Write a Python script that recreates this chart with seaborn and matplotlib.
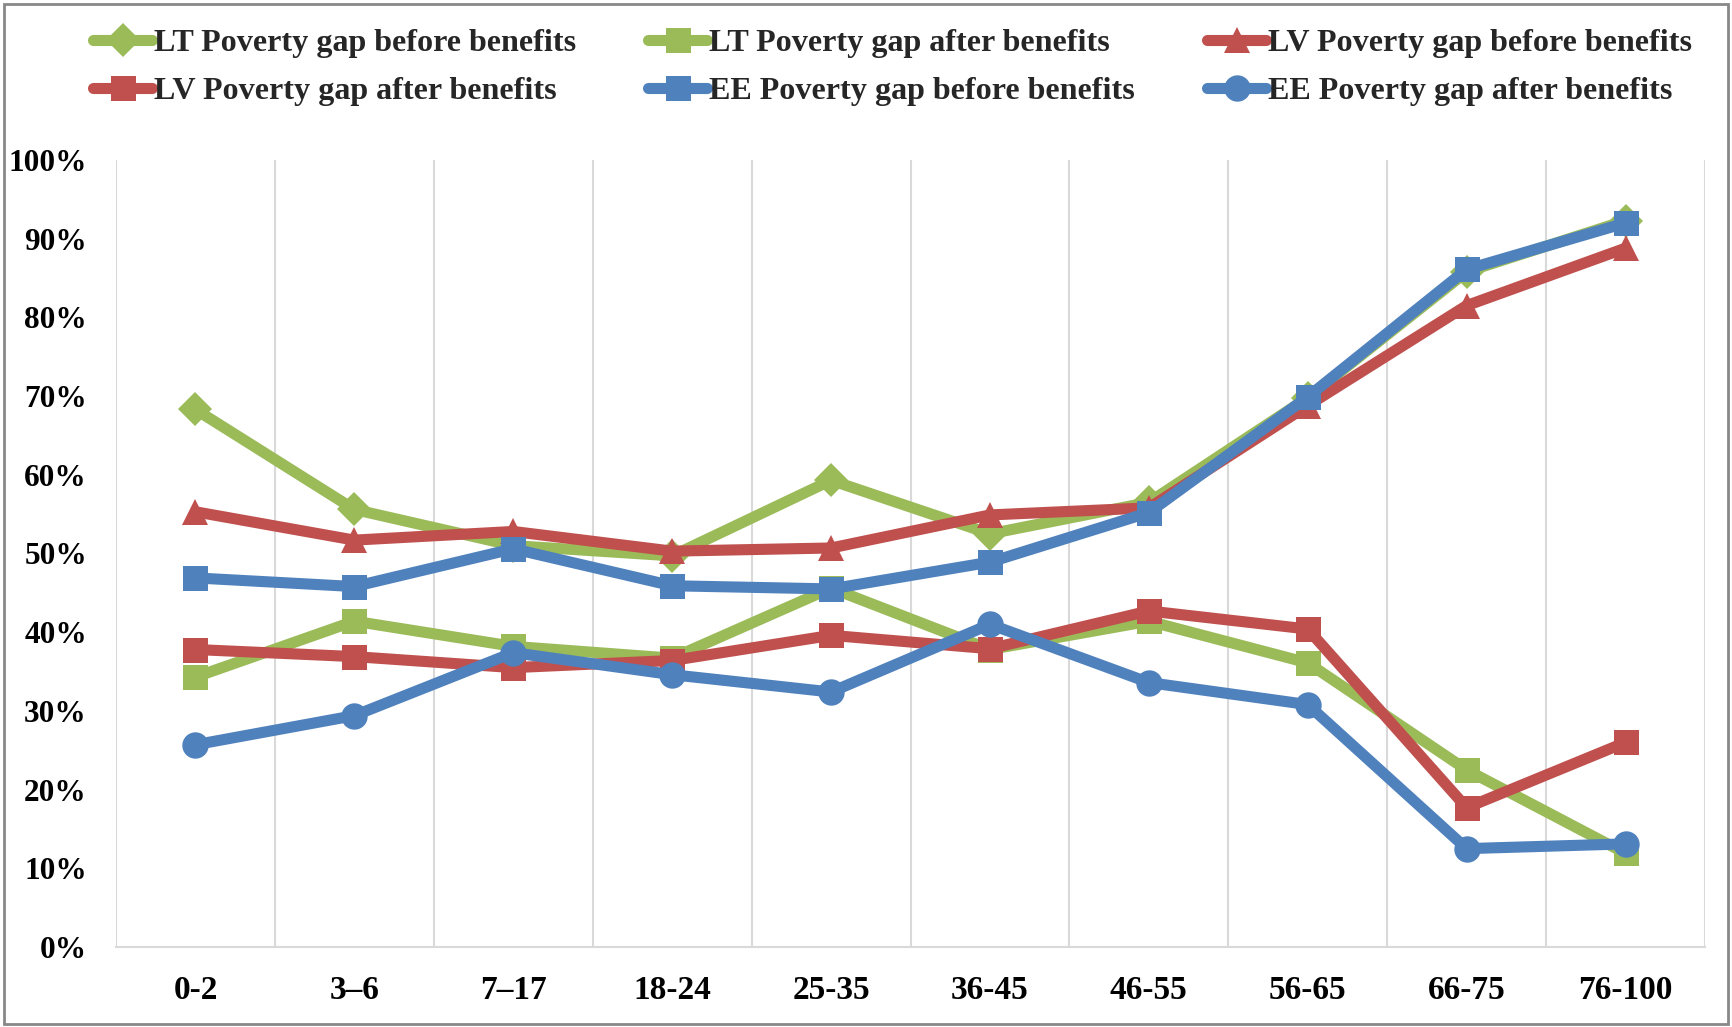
import matplotlib
matplotlib.use("Agg")
import matplotlib.pyplot as plt
import seaborn as sns
import pandas as pd
from matplotlib.ticker import FuncFormatter
from matplotlib.patches import Rectangle

categories = ["0-2", "3–6", "7–17", "18-24", "25-35", "36-45", "46-55", "56-65", "66-75", "76-100"]

lt_before = [68.3, 55.6, 51.0, 49.7, 59.3, 52.5, 56.5, 69.8, 85.8, 92.3]
lt_after = [34.3, 41.4, 38.2, 36.7, 45.6, 37.8, 41.4, 36.1, 22.5, 11.9]
lv_before = [55.3, 51.7, 52.8, 50.3, 50.7, 54.9, 55.8, 68.8, 81.5, 88.8]
lv_after = [37.8, 36.9, 35.5, 36.4, 39.6, 37.9, 42.7, 40.4, 17.7, 26.0]
ee_before = [46.9, 45.8, 50.6, 45.9, 45.5, 48.9, 55.2, 69.9, 86.1, 92.0]
ee_after = [25.7, 29.4, 37.4, 34.6, 32.4, 41.0, 33.6, 30.8, 12.5, 13.1]

series_names = [
    "LT Poverty gap before benefits",
    "LT Poverty gap after benefits",
    "LV Poverty gap before benefits",
    "LV Poverty gap after benefits",
    "EE Poverty gap before benefits",
    "EE Poverty gap after benefits",
]
series_values = [lt_before, lt_after, lv_before, lv_after, ee_before, ee_after]
GREEN, RED, BLUE = "#9BBB59", "#C0504D", "#4F81BD"
colors = [GREEN, GREEN, RED, RED, BLUE, BLUE]
markers = ["D", "s", "^", "s", "s", "o"]
msizes = [17, 18, 19, 18, 18, 19]

sns.set_theme(style="white")
plt.rcParams["font.family"] = ["Liberation Serif", "DejaVu Serif"]
plt.rcParams["font.weight"] = "bold"

fig = plt.figure(figsize=(17.33, 10.27), dpi=100)
ax = fig.add_axes([116 / 1733, 1 - 947 / 1027, (1705 - 116) / 1733, (947 - 160) / 1027])

handles = []
for name, vals, c, m, ms in zip(series_names, series_values, colors, markers, msizes):
    df = pd.DataFrame({"age": categories, "value": [v / 100 for v in vals]})
    sns.lineplot(data=df, x="age", y="value", ax=ax, color=c, linewidth=8,
                 marker=m, markersize=ms, markeredgewidth=0, sort=False,
                 solid_joinstyle="round", solid_capstyle="round")
    handles.append(ax.get_lines()[-1])

ax.set_xlim(-0.5, len(categories) - 0.5)
ax.set_ylim(0, 1)
ax.set_yticks([i / 10 for i in range(11)])
ax.yaxis.set_major_formatter(FuncFormatter(lambda v, p: f"{v * 100:.0f}%"))
ax.set_xlabel("")
ax.set_ylabel("")
for i in range(len(categories) + 1):
    ax.axvline(i - 0.5, color="#D9D9D9", linewidth=1.5, zorder=0)
for s in ["top", "right", "left"]:
    ax.spines[s].set_visible(False)
ax.spines["bottom"].set_color("#D9D9D9")
ax.spines["bottom"].set_linewidth(1.5)
ax.tick_params(axis="both", length=0)
ax.tick_params(axis="y", pad=21, labelsize=22.5)
ax.tick_params(axis="x", pad=20, labelsize=24)
for lab in ax.get_xticklabels() + ax.get_yticklabels():
    lab.set_fontweight("bold")
    lab.set_color("black")

order = [0, 3, 1, 4, 2, 5]
leg = fig.legend([handles[i] for i in order], [series_names[i] for i in order],
                 ncol=3, loc="upper left", bbox_to_anchor=(80 / 1733, 1 - 16 / 1027),
                 frameon=False, prop={"family": "Liberation Serif", "weight": "bold", "size": 23.1},
                 handlelength=1.85, handletextpad=0.05, columnspacing=2.25, labelspacing=0.57,
                 borderaxespad=0)

fig.patches.append(Rectangle((4 / 1733, 3 / 1027), 1724 / 1733, 1020 / 1027,
                             transform=fig.transFigure, fill=False,
                             edgecolor="#888888", linewidth=2))

fig.savefig("out.png", dpi=100)
